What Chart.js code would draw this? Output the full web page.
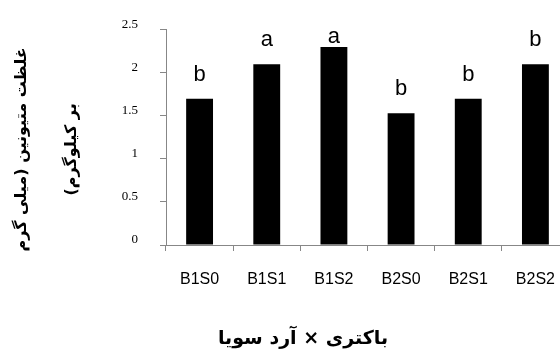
<!DOCTYPE html>
<html>
<head>
<meta charset="utf-8">
<script src="https://cdn.jsdelivr.net/npm/chart.js@4/dist/chart.umd.min.js"></script>
<style>
  html, body { margin: 0; padding: 0; background: #fff; overflow: hidden; }
  #wrap { width: 580px; height: 358px; }
</style>
</head>
<body>
<div id="wrap"><canvas id="c" width="580" height="358"></canvas></div>
<script>
// Treatment combinations (bacteria x soy flour)
const categories = ['B1S0', 'B1S1', 'B1S2', 'B2S0', 'B2S1', 'B2S2'];
// Methionine concentration (mg per kg)
const methionine = [1.7, 2.1, 2.3, 1.53, 1.7, 2.1];
// Significance group letters shown above each bar
const groupLetters = ['b', 'a', 'a', 'b', 'b', 'b'];
// Value axis range and step
const yMin = 0, yMax = 2.5, yStep = 0.5;

const xTitle = 'باکتری × آرد سویا';
const yTitleLines = ['غلظت متیونین (میلی گرم', 'بر کیلوگرم)'];

const axisGrey = '#878787';
const arabicFont = '"DejaVu Sans", "Noto Sans", sans-serif';

// Letters above bars
const letterPlugin = {
  id: 'groupLetters',
  afterDatasetsDraw(chart) {
    const ctx = chart.ctx;
    const meta = chart.getDatasetMeta(0);
    ctx.save();
    ctx.font = '22px "Liberation Sans", Arial, sans-serif';
    ctx.fillStyle = '#000';
    ctx.textAlign = 'center';
    ctx.textBaseline = 'alphabetic';
    meta.data.forEach((bar, i) => {
      const base = Math.max(bar.y - 18, chart.chartArea.top + 13);
      ctx.fillText(groupLetters[i], bar.x, base);
    });
    ctx.restore();
  }
};

// Axis captions (right-to-left text)
const captionPlugin = {
  id: 'axisCaptions',
  afterDraw(chart) {
    const ctx = chart.ctx;
    const area = chart.chartArea;
    ctx.save();
    ctx.fillStyle = '#000';
    ctx.direction = 'rtl';
    ctx.textAlign = 'center';
    ctx.textBaseline = 'middle';
    // x-axis caption
    ctx.font = 'bold 19px ' + arabicFont;
    ctx.fillText(xTitle, 303, 339);
    // y-axis caption, rotated
    const cy = (area.top + area.bottom) / 2 + 12;
    ctx.font = 'bold 16px ' + arabicFont;
    const xs = [22, 72];
    yTitleLines.forEach((line, i) => {
      ctx.save();
      ctx.translate(xs[i], cy);
      ctx.rotate(-Math.PI / 2);
      ctx.fillText(line, 0, 0);
      ctx.restore();
    });
    ctx.restore();
  }
};

new Chart(document.getElementById('c'), {
  type: 'bar',
  data: {
    labels: categories,
    datasets: [{
      data: methionine,
      backgroundColor: '#000',
      borderWidth: 0,
      categoryPercentage: 1.0,
      barPercentage: 0.4
    }]
  },
  options: {
    responsive: false,
    animation: false,
    devicePixelRatio: 1,
    layout: { padding: { top: 25, right: 11, bottom: 0, left: 0 } },
    plugins: { legend: { display: false }, tooltip: { enabled: false } },
    scales: {
      x: {
        afterFit(scale) { scale.height = 113; },
        grid: {
          display: true,
          drawOnChartArea: false,
          offset: true,
          tickLength: 6,
          color: axisGrey
        },
        border: { display: true, color: axisGrey, width: 1 },
        ticks: {
          color: '#000',
          padding: 19,
          font: { family: '"Liberation Sans", Arial, sans-serif', size: 16 }
        }
      },
      y: {
        min: yMin,
        max: yMax,
        afterFit(scale) { scale.width = 166; },
        grid: {
          display: true,
          drawOnChartArea: false,
          tickLength: 6,
          color: axisGrey
        },
        border: { display: true, color: axisGrey, width: 1 },
        ticks: {
          stepSize: yStep,
          color: '#000',
          padding: 22,
          labelOffset: -5,
          callback: (v) => String(v),
          font: { family: '"Liberation Serif", "Times New Roman", serif', size: 13 }
        }
      }
    }
  },
  plugins: [letterPlugin, captionPlugin]
});
</script>
</body>
</html>
